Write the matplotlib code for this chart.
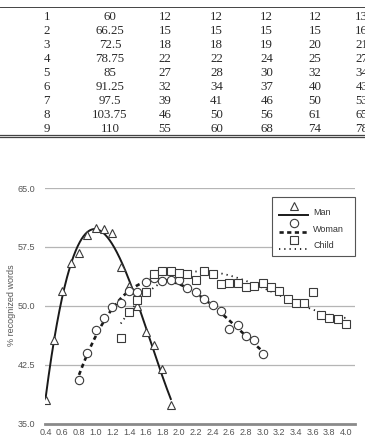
import numpy as np
import matplotlib
matplotlib.use("Agg")
import matplotlib.pyplot as plt
from matplotlib.patches import Rectangle
from matplotlib.lines import Line2D

# ---------------- data ----------------
# table (top part of the page)
seg_no = [1, 2, 3, 4, 5, 6, 7, 8, 9]
seg_avg = [60, 66.25, 72.5, 78.75, 85, 91.25, 97.5, 103.75, 110]
col_a = [12, 15, 18, 22, 27, 32, 39, 46, 55]
col_b = [12, 15, 18, 22, 28, 34, 41, 50, 60]
col_c = [12, 15, 19, 24, 30, 37, 46, 56, 68]
col_d = [12, 15, 20, 25, 32, 40, 50, 61, 74]
col_e = [13, 16, 21, 27, 34, 43, 53, 65, 78]

# chart
man_x = [0.4, 0.5, 0.6, 0.7, 0.8, 0.9, 1.0, 1.1, 1.2, 1.3, 1.4, 1.5, 1.6, 1.7, 1.8, 1.9]
man_y = [38.0, 45.7, 51.9, 55.5, 56.7, 59.0, 59.9, 59.8, 59.3, 55.0, 52.5, 50.0, 46.7, 45.0, 42.0, 37.3]

woman_x = [0.8, 0.9, 1.0, 1.1, 1.2, 1.3, 1.4, 1.5, 1.6, 1.7, 1.8, 1.9, 2.0, 2.1, 2.2,
           2.3, 2.4, 2.5, 2.6, 2.7, 2.8, 2.9, 3.0]
woman_y = [40.6, 44.0, 46.9, 48.4, 49.9, 50.3, 51.9, 51.7, 53.05, 53.55, 53.1, 53.3, 53.3, 52.3, 51.7,
           50.8, 50.1, 49.3, 47.0, 47.5, 46.2, 45.7, 43.9]

child_x = [1.3, 1.4, 1.5, 1.6, 1.7, 1.8, 1.9, 2.0, 2.1, 2.2, 2.3, 2.4, 2.5, 2.6,
           2.7, 2.8, 2.9, 3.0, 3.1, 3.2, 3.3, 3.4, 3.5, 3.6, 3.7, 3.8, 3.9, 4.0]
child_y = [45.9, 49.2, 50.7, 51.7, 54.1, 54.4, 54.4, 54.2, 54.1, 53.3, 54.45, 54.0, 52.8, 52.9,
           52.85, 52.4, 52.5, 52.9, 52.4, 51.9, 50.8, 50.4, 50.4, 51.8, 48.8, 48.5, 48.25, 47.65]

series_names = ["Man", "Woman", "Child"]
y_ticks = [35.0, 42.5, 50.0, 57.5, 65.0]
x_ticks = [0.4, 0.6, 0.8, 1.0, 1.2, 1.4, 1.6, 1.8, 2.0, 2.2, 2.4, 2.6, 2.8, 3.0, 3.2, 3.4, 3.6, 3.8, 4.0]
y_label = "% recognized words"

# ---------------- figure ----------------
W, H = 365, 436
fig = plt.figure(figsize=(W / 100, H / 100), dpi=100)
fig.patch.set_facecolor("white")


def fx(px):
    return px / W


def fy(py):
    return 1 - py / H


# ---- table ----
serif = ["Liberation Serif", "DejaVu Serif"]
tcol = "#2a2a2a"
col_x = [46.7, 110, 165, 216.7, 266.7, 315, 361.7]
columns = [seg_no, seg_avg, col_a, col_b, col_c, col_d, col_e]
for i in range(len(seg_no)):
    row_y = 16 + 14 * i
    for cx, col in zip(col_x, columns):
        fig.text(fx(cx), fy(row_y + 4.3), f"{col[i]:g}", ha="center", va="baseline",
                 family=serif, fontsize=9.3, color=tcol)

fig.add_artist(Line2D([0, 1], [fy(7.3), fy(7.3)], color="#444", lw=0.7))
fig.add_artist(Line2D([0, 1], [fy(134.8), fy(134.8)], color="#444", lw=0.9))
fig.add_artist(Line2D([0, 1], [fy(137.2), fy(137.2)], color="#444", lw=0.9))

# ---- chart ----
sans = ["Liberation Sans", "DejaVu Sans"]
gcol = "#555555"
ax = fig.add_axes([fx(45), fy(423.5), fx(355) - fx(45), fy(188) - fy(423.5)])
ax.set_xlim(0.392, 4.108)
ax.set_ylim(35, 65)
for s in ax.spines.values():
    s.set_visible(False)
ax.set_yticks(y_ticks)
ax.set_yticklabels([f"{v:.1f}" for v in y_ticks], family=sans, fontsize=6.5, color=gcol)
ax.set_xticks(x_ticks)
ax.set_xticklabels([f"{v:.1f}" for v in x_ticks], family=sans, fontsize=6.5, color=gcol)
ax.tick_params(axis="both", length=0)
ax.tick_params(axis="y", pad=7)
ax.tick_params(axis="x", pad=3)
for v in y_ticks[1:]:
    ax.axhline(v, color="#b5b5b5", lw=0.9, zorder=0)
ax.axhline(y_ticks[0], color="#8a8a8a", lw=2.0, zorder=0, clip_on=False)

specs = [
    (man_x, man_y, "^", dict(ls="-", lw=1.4)),
    (woman_x, woman_y, "o", dict(ls=(0, (1.6, 1.3)), lw=1.9)),
    (child_x, child_y, "s", dict(ls=(0, (0.7, 2.2)), lw=1.3)),
]
msz = {"^": 6.2, "o": 6.0, "s": 5.2}
for x, y, m, ls in specs:
    xa = np.array(x)
    p = np.polyfit(xa, np.array(y), 3)
    xs = np.linspace(xa.min(), xa.max(), 300)
    ax.plot(xs, np.polyval(p, xs), color="#1a1a1a", zorder=2, **ls)
    ax.plot(x, y, ls="none", marker=m, ms=msz[m], mfc="white", mec="#3a3a3a", mew=0.8, zorder=3)

fig.text(fx(12), fy(305), y_label, rotation=90, ha="center", va="center",
         family=sans, fontsize=6.5, color=gcol)

# ---- legend (marker drawn above a line sample) ----
fig.add_artist(Rectangle((fx(272), fy(256)), fx(354.5) - fx(272), fy(197) - fy(256),
                         transform=fig.transFigure, facecolor="white", edgecolor="#555", lw=0.8))
rows = [(206, 215, 212.5), (223, 232, 229), (240, 249, 245.5)]
for (my, ly, ty), (x, y, m, ls), name in zip(rows, specs, series_names):
    fig.add_artist(Line2D([fx(279), fx(308)], [fy(ly), fy(ly)], color="#1a1a1a", **ls))
    fig.add_artist(Line2D([fx(294)], [fy(my)], ls="none", marker=m, ms=msz[m],
                          mfc="white", mec="#3a3a3a", mew=0.8))
    fig.text(fx(313), fy(ty), name, ha="left", va="center", family=sans, fontsize=6.5, color="#333")

fig.savefig("out.png", dpi=100)
